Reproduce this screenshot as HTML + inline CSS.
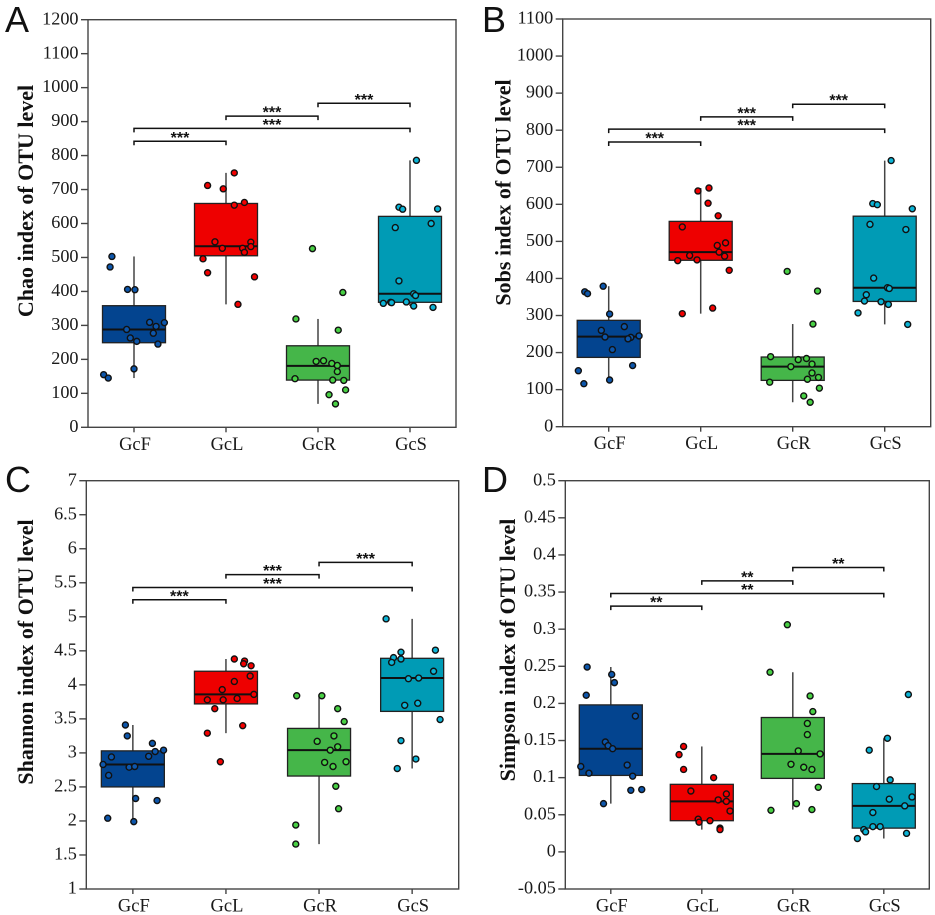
<!DOCTYPE html>
<html lang="en">
<head>
<meta charset="utf-8">
<title>Alpha diversity box plots</title>
<style>
  html, body { margin: 0; padding: 0; background: #ffffff; }
  body { width: 935px; height: 915px; overflow: hidden; }
  svg { display: block; filter: blur(0.35px); }
  .tick { font: 18.2px "Liberation Serif", serif; fill: #1a1a1a; }
  .title { font: bold 22px "Liberation Serif", serif; fill: #111111; text-anchor: middle; }
  .letter { font: 36px "Liberation Sans", sans-serif; fill: #111111; }
  .stars { font: bold 16px "Liberation Sans", sans-serif; fill: #111111; text-anchor: middle; }
</style>
</head>
<body>
<svg id="figure" xmlns="http://www.w3.org/2000/svg" width="935" height="915" viewBox="0 0 935 915">
  <text class="letter" x="5" y="32">A</text>
  <text class="letter" x="482" y="32">B</text>
  <text class="letter" x="5" y="492">C</text>
  <text class="letter" x="482" y="492">D</text>
  <text class="title" transform="translate(33 201) rotate(-90)">Chao index of OTU level</text>
  <text class="title" transform="translate(510.5 192.5) rotate(-90)">Sobs index of OTU level</text>
  <text class="title" transform="translate(33 652) rotate(-90)">Shannon index of OTU level</text>
  <text class="title" transform="translate(515 650) rotate(-90)">Simpson index of OTU level</text>
</svg>
<script>
const categories = ['GcF', 'GcL', 'GcR', 'GcS'];
const boxColors = ['#03448f', '#ee0000', '#45b649', '#009bb5'];
const pointColors = ['#0d56ab', '#f40000', '#48d044', '#0cb4d6'];

/* Panel A: Chao */
const chaoTicks = [0, 100, 200, 300, 400, 500, 600, 700, 800, 900, 1000, 1100, 1200];
const chaoQ1 = [249, 505, 139, 368];
const chaoMedian = [288, 533, 181, 393];
const chaoQ3 = [358, 659, 240, 621];
const chaoLow = [145, 362, 69, 357];
const chaoHigh = [503, 749, 319, 786];
const chaoValues = [
  [503, 472, 406, 405, 309, 297, 308, 288, 277, 263, 253, 245, 172, 155, 145],
  [749, 712, 702, 654, 662, 546, 527, 545, 532, 527, 515, 496, 455, 443, 362],
  [526, 397, 319, 286, 194, 196, 188, 182, 164, 143, 139, 138, 110, 96, 69],
  [786, 648, 642, 643, 588, 600, 431, 393, 388, 365, 368, 369, 357, 353, 367]
];
const chaoJitter = [
  [-0.24, -0.26, -0.07, 0.01, 0.17, 0.24, 0.33, -0.08, 0.21, -0.04, 0.03, 0.26, 0, -0.33, -0.28],
  [0.09, -0.20, -0.03, 0.09, 0.20, -0.12, -0.04, 0.27, 0.27, 0.18, 0.20, -0.25, -0.20, 0.31, 0.13],
  [-0.06, 0.27, -0.24, 0.22, -0.02, 0.06, 0.15, 0.21, 0.21, -0.25, 0.16, 0.28, 0.30, 0.12, 0.19],
  [0.07, -0.12, -0.08, 0.30, -0.16, 0.23, -0.12, 0.04, 0.06, -0.29, -0.21, -0.04, 0.04, 0.25, -0.20]
];
const chaoBrackets = [842, 880, 916, 954];
const chaoStars = ['***', '***', '***', '***'];

/* Panel B: Sobs */
const sobsTicks = [0, 100, 200, 300, 400, 500, 600, 700, 800, 900, 1000, 1100];
const sobsQ1 = [187, 449, 125, 338];
const sobsMedian = [243, 471, 162, 375];
const sobsQ3 = [287, 554, 188, 568];
const sobsLow = [126, 305, 66, 276];
const sobsHigh = [379, 644, 277, 718];
const sobsValues = [
  [379, 364, 359, 304, 270, 260, 242, 241, 237, 245, 208, 165, 151, 126, 116],
  [644, 636, 603, 569, 539, 496, 489, 471, 462, 460, 450, 448, 422, 320, 305],
  [419, 366, 277, 189, 181, 184, 169, 162, 145, 133, 128, 120, 104, 83, 66],
  [718, 602, 599, 588, 546, 532, 401, 375, 373, 356, 339, 337, 330, 307, 276]
];
const sobsJitter = [
  [-0.06, -0.26, -0.23, 0.01, 0.17, -0.08, -0.04, 0.24, 0.21, 0.33, 0.04, 0.26, -0.33, 0.01, -0.27],
  [0.09, -0.03, 0.08, 0.19, -0.20, 0.27, 0.18, 0.20, -0.12, 0.26, -0.04, -0.25, 0.31, 0.13, -0.20],
  [-0.06, 0.27, 0.22, -0.24, 0.06, 0.15, 0.21, -0.02, 0.21, 0.28, 0.16, -0.25, 0.29, 0.12, 0.19],
  [0.07, -0.13, -0.08, 0.30, -0.16, 0.23, -0.12, 0.03, 0.05, -0.20, -0.22, -0.04, 0.04, -0.29, 0.25]
];
const sobsBrackets = [768, 803, 836, 870];
const sobsStars = ['***', '***', '***', '***'];

/* Panel C: Shannon */
const shannonTicks = [1, 1.5, 2, 2.5, 3, 3.5, 4, 4.5, 5, 5.5, 6, 6.5, 7];
const shannonQ1 = [2.50, 3.72, 2.66, 3.61];
const shannonMedian = [2.83, 3.86, 3.04, 4.10];
const shannonQ3 = [3.03, 4.20, 3.36, 4.39];
const shannonLow = [1.99, 3.29, 1.66, 2.77];
const shannonHigh = [3.41, 4.38, 3.84, 4.97];
const shannonValues = [
  [3.41, 3.25, 3.14, 3.04, 3.02, 2.95, 2.94, 2.83, 2.79, 2.80, 2.67, 2.33, 2.30, 2.04, 1.99],
  [4.38, 4.35, 4.31, 4.28, 4.13, 4.05, 3.93, 3.86, 3.78, 3.78, 3.80, 3.65, 3.40, 3.29, 2.87],
  [3.84, 3.84, 3.65, 3.46, 3.25, 3.17, 3.09, 3.04, 2.86, 2.87, 2.80, 2.51, 2.18, 1.94, 1.66],
  [4.97, 4.51, 4.48, 4.40, 4.38, 4.33, 4.20, 4.09, 4.10, 3.73, 3.70, 3.49, 3.18, 2.91, 2.77]
];
const shannonJitter = [
  [-0.08, -0.06, 0.21, 0.33, 0.24, 0.17, -0.23, -0.32, -0.04, 0.02, -0.26, 0.03, 0.26, -0.27, 0.01],
  [0.09, 0.20, 0.19, 0.27, 0.26, 0.09, -0.04, 0.30, -0.20, -0.03, 0.12, -0.12, 0.18, -0.20, -0.06],
  [-0.24, 0.03, 0.20, 0.27, 0.16, -0.02, 0.20, 0.12, 0.06, 0.29, 0.15, 0.18, 0.21, -0.25, -0.25],
  [-0.28, 0.25, -0.12, -0.20, -0.12, -0.22, 0.23, -0.04, 0.07, 0.06, -0.08, 0.30, -0.12, 0.04, -0.16]
];
const shannonBrackets = [5.25, 5.43, 5.62, 5.80];
const shannonStars = ['***', '***', '***', '***'];

/* Panel D: Simpson */
const simpsonTicks = [-0.05, 0, 0.05, 0.1, 0.15, 0.2, 0.25, 0.3, 0.35, 0.4, 0.45, 0.5];
const simpsonQ1 = [0.103, 0.042, 0.099, 0.032];
const simpsonMedian = [0.139, 0.068, 0.132, 0.062];
const simpsonQ3 = [0.198, 0.091, 0.181, 0.092];
const simpsonLow = [0.065, 0.030, 0.057, 0.018];
const simpsonHigh = [0.249, 0.142, 0.242, 0.153];
const simpsonValues = [
  [0.249, 0.239, 0.228, 0.211, 0.183, 0.148, 0.143, 0.139, 0.117, 0.115, 0.106, 0.102, 0.083, 0.084, 0.065],
  [0.142, 0.131, 0.111, 0.100, 0.082, 0.078, 0.070, 0.068, 0.055, 0.044, 0.042, 0.040, 0.032, 0.030],
  [0.306, 0.242, 0.210, 0.189, 0.173, 0.158, 0.136, 0.132, 0.118, 0.114, 0.111, 0.087, 0.065, 0.057, 0.056],
  [0.212, 0.153, 0.137, 0.097, 0.088, 0.071, 0.074, 0.062, 0.053, 0.034, 0.034, 0.030, 0.027, 0.025, 0.018]
];
const simpsonJitter = [
  [-0.26, 0.01, 0.04, -0.27, 0.27, -0.06, -0.03, 0.02, 0.18, -0.33, -0.24, 0.24, 0.22, 0.34, -0.08],
  [-0.20, -0.25, -0.20, 0.13, -0.12, 0.27, 0.18, 0.27, 0.31, -0.04, 0.09, -0.03, 0.20, 0.20],
  [-0.06, -0.25, 0.19, 0.22, 0.16, 0.16, 0.06, 0.30, -0.02, 0.12, 0.21, 0.28, 0.04, 0.21, -0.24],
  [0.27, 0.04, -0.16, 0.07, -0.08, 0.06, 0.31, 0.23, -0.12, -0.12, -0.04, -0.22, -0.20, 0.25, -0.29]
];
const simpsonBrackets = [0.331, 0.348, 0.365, 0.383];
const simpsonStars = ['**', '**', '**', '**'];

/* Which categories each significance bracket joins, in draw order */
const bracketFrom = [0, 0, 1, 2];
const bracketTo = [1, 3, 2, 3];

const SVG_NS = 'http://www.w3.org/2000/svg';
const figure = document.getElementById('figure');

function make(parent, tag, attrs) {
  const el = document.createElementNS(SVG_NS, tag);
  for (const key in attrs) el.setAttribute(key, attrs[key]);
  parent.appendChild(el);
  return el;
}

function drawPanel(panel) {
  const { key, left, right, top, bottom, ticks, q1, median, q3, low, high, values, jitter, brackets, stars } = panel;
  const yMin = ticks[0];
  const yMax = ticks[ticks.length - 1];
  const band = (right - left) / categories.length;
  const xScale = (position) => left + band * (position + 0.5);
  const yScale = (value) => bottom - (value - yMin) / (yMax - yMin) * (bottom - top);
  const boxWidth = 63;

  const g = make(figure, 'g', {});
  
  

  ticks.forEach((tick) => {
    const y = yScale(tick);
    const mark = make(g, 'line', { x1: left - 7, x2: left, y1: y, y2: y, stroke: '#444', 'stroke-width': 1.4 });
    
    
    const label = make(g, 'text', { class: 'tick', x: left - 9.5, y: y + 4.6, 'text-anchor': 'end' });
    
    
    label.textContent = String(tick);
  });

  categories.forEach((category, c) => {
    const x = xScale(c);
    const name = key + '-' + category.toLowerCase();

    const xMark = make(g, 'line', { x1: x, x2: x, y1: bottom, y2: bottom + 5, stroke: '#444', 'stroke-width': 1.4 });
    
    

    const xLabel = make(g, 'text', { class: 'tick', x: x + 1, y: bottom + 22.5, 'text-anchor': 'middle', style: 'font-size:18.5px' });
    
    
    xLabel.textContent = category;

    const whisker = make(g, 'line', { x1: x, x2: x, y1: yScale(high[c]), y2: yScale(low[c]), stroke: '#444', 'stroke-width': 1.5 });
    
    

    const box = make(g, 'rect', {
      x: x - boxWidth / 2, y: yScale(q3[c]), width: boxWidth,
      height: yScale(q1[c]) - yScale(q3[c]),
      fill: boxColors[c], stroke: '#222', 'stroke-width': 1.3
    });
    
    

    const med = make(g, 'line', {
      x1: x - boxWidth / 2, x2: x + boxWidth / 2,
      y1: yScale(median[c]), y2: yScale(median[c]), stroke: '#111', 'stroke-width': 2
    });
    
    

    values[c].forEach((value, i) => {
      const dot = make(g, 'circle', {
        cx: xScale(c + jitter[c][i]), cy: yScale(value), r: 3,
        fill: pointColors[c], stroke: '#111', 'stroke-width': 1.4
      });
      
      
    });
  });

  brackets.forEach((level, b) => {
    const x1 = xScale(bracketFrom[b]);
    const x2 = xScale(bracketTo[b]);
    const y = yScale(level);
    const path = make(g, 'path', {
      d: 'M' + x1 + ' ' + (y + 4) + 'V' + y + 'H' + x2 + 'V' + (y + 4),
      fill: 'none', stroke: '#111', 'stroke-width': 1.5
    });
    
    
    const star = make(g, 'text', { class: 'stars', x: (x1 + x2) / 2, y: y + 1.5 });
    
    
    star.textContent = stars[b];
  });

  const frame = make(g, 'rect', {
    x: left, y: top, width: right - left, height: bottom - top,
    fill: 'none', stroke: '#444', 'stroke-width': 1.4
  });
  
  
}

drawPanel({ key: 'chao', left: 88, right: 456, top: 19.7, bottom: 427.3, ticks: chaoTicks,
  q1: chaoQ1, median: chaoMedian, q3: chaoQ3, low: chaoLow, high: chaoHigh,
  values: chaoValues, jitter: chaoJitter, brackets: chaoBrackets, stars: chaoStars });
drawPanel({ key: 'sobs', left: 562.7, right: 930.7, top: 19, bottom: 426.7, ticks: sobsTicks,
  q1: sobsQ1, median: sobsMedian, q3: sobsQ3, low: sobsLow, high: sobsHigh,
  values: sobsValues, jitter: sobsJitter, brackets: sobsBrackets, stars: sobsStars });
drawPanel({ key: 'shannon', left: 86.3, right: 458.7, top: 480.7, bottom: 889, ticks: shannonTicks,
  q1: shannonQ1, median: shannonMedian, q3: shannonQ3, low: shannonLow, high: shannonHigh,
  values: shannonValues, jitter: shannonJitter, brackets: shannonBrackets, stars: shannonStars });
drawPanel({ key: 'simpson', left: 565.3, right: 929.3, top: 480.7, bottom: 889, ticks: simpsonTicks,
  q1: simpsonQ1, median: simpsonMedian, q3: simpsonQ3, low: simpsonLow, high: simpsonHigh,
  values: simpsonValues, jitter: simpsonJitter, brackets: simpsonBrackets, stars: simpsonStars });
</script>
</body>
</html>
